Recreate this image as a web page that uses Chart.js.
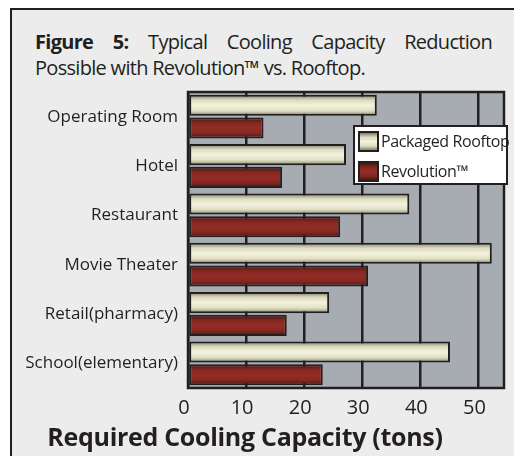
<!DOCTYPE html>
<html>
<head>
<meta charset="utf-8">
<script src="https://cdn.jsdelivr.net/npm/chart.js@4"></script>
<style>
  html, body { margin: 0; padding: 0; background: #fff; }
  #wrap { position: relative; width: 514px; height: 456px; overflow: hidden; font-family: "Open Sans", sans-serif; color: #231f20; }
  #frame { position: absolute; left: 10px; top: 8px; right: -5px; bottom: -5px; border: 2px solid #231f20; background: #ececec; }
  #title { position: absolute; left: 35px; top: 29px; width: 457px; font-size: 20px; line-height: 26px; letter-spacing: -0.7px; }
  #title .l1 { text-align: justify; text-align-last: justify; white-space: nowrap; }
  #title b { font-weight: 700; }
  #chart { position: absolute; left: 0; top: 0; }
  #legend { position: absolute; left: 353px; top: 125px; width: 151px; height: 56px; background: #fff; border: 2px solid #231f20; padding: 0; }
  #legend .item { position: absolute; left: 3px; display: flex; align-items: center; font-size: 16px; white-space: nowrap; letter-spacing: -0.4px; }
  #legend .sw { width: 17px; height: 17px; border: 2px solid #231f20; margin-right: 2px; }
  #xtitle { position: absolute; left: 0; width: 490px; top: 419px; text-align: center; font-size: 25px; font-weight: 700; letter-spacing: -0.3px; }
</style>
</head>
<body>
<div id="wrap">
  <div id="frame"></div>
  <div id="title">
    <div class="l1"><b>Figure 5:</b> Typical Cooling Capacity Reduction</div>
    <div>Possible with Revolution™ vs. Rooftop.</div>
  </div>
  <canvas id="chart" width="514" height="456"></canvas>
  <div id="legend"></div>
  <div id="xtitle">Required Cooling Capacity (tons)</div>
</div>
<script>
  // Données du graphique
  const categories = ['Operating Room', 'Hotel', 'Restaurant', 'Movie Theater', 'Retail(pharmacy)', 'School(elementary)'];
  const seriesNames = ['Packaged Rooftop', 'Revolution™'];
  const rooftopValues = [32.5, 27.2, 38.1, 52.3, 24.3, 45.1];
  const revolutionValues = [13, 16.2, 26.2, 31, 17, 23.2];
  const xTicks = [0, 10, 20, 30, 40, 50];

  const catPct = 0.92;
  const barPct = 0.93;

  // Dégradés façon cylindre
  const creamStops = [[0, '#7c7d68'], [0.25, '#dcdbc0'], [0.5, '#f3f2dc'], [0.75, '#e2e1c6'], [1, '#85856f']];
  const redStops = [[0, '#4a1410'], [0.28, '#862822'], [0.5, '#932d26'], [0.75, '#852822'], [1, '#4c1511']];

  function barGradient(ctx, stops) {
    const chart = ctx.chart;
    const y = chart.scales.y;
    if (!chart.chartArea || !y || ctx.dataIndex === undefined) return stops[2][1];
    const center = y.getPixelForValue(ctx.dataIndex);
    const slot = (y.height / categories.length) * catPct / 2;
    const mid = center + (ctx.datasetIndex === 0 ? -slot / 2 : slot / 2);
    const half = slot * barPct / 2;
    const g = chart.ctx.createLinearGradient(0, mid - half, 0, mid + half);
    stops.forEach(s => g.addColorStop(s[0], s[1]));
    return g;
  }

  const plotBg = {
    id: 'plotBg',
    beforeDraw(chart) {
      const { ctx, chartArea: a } = chart;
      ctx.save();
      ctx.fillStyle = '#a7acb3';
      ctx.fillRect(a.left, a.top, a.right - a.left, a.bottom - a.top);
      ctx.restore();
    },
    beforeDatasetsDraw(chart) {
      const { ctx, chartArea: a } = chart;
      ctx.save();
      ctx.strokeStyle = '#231f20';
      ctx.lineWidth = 2.5;
      ctx.strokeRect(a.left, a.top, a.right - a.left, a.bottom - a.top);
      ctx.restore();
    }
  };

  const chart = new Chart(document.getElementById('chart'), {
    type: 'bar',
    data: {
      labels: categories,
      datasets: [
        { label: seriesNames[0], data: rooftopValues, backgroundColor: c => barGradient(c, creamStops) },
        { label: seriesNames[1], data: revolutionValues, backgroundColor: c => barGradient(c, redStops) }
      ]
    },
    options: {
      indexAxis: 'y',
      responsive: false,
      animation: false,
      categoryPercentage: catPct,
      barPercentage: barPct,
      borderColor: '#231f20',
      borderWidth: 2,
      borderSkipped: false,
      layout: { padding: { top: 92, right: 10, left: 0, bottom: 0 } },
      plugins: { legend: { display: false }, tooltip: { enabled: false } },
      scales: {
        x: {
          min: 0,
          max: 54.4,
          afterBuildTicks: s => { s.ticks = xTicks.map(v => ({ value: v })); },
          afterFit: s => { s.height = 68; },
          grid: { color: '#231f20', lineWidth: 2.5, drawTicks: false },
          border: { display: false },
          ticks: { color: '#231f20', padding: 8, labelOffset: -4, font: { family: 'Open Sans', size: 20 } }
        },
        y: {
          afterFit: s => { s.width = 188; },
          grid: { display: false, drawTicks: false },
          border: { display: false },
          ticks: { color: '#231f20', padding: 10, font: { family: 'Open Sans', size: 17 } }
        }
      }
    },
    plugins: [plotBg]
  });

  // Légende HTML
  const swatchCss = [
    'linear-gradient(#7c7d68, #dcdbc0 25%, #f3f2dc 50%, #e2e1c6 75%, #85856f)',
    'linear-gradient(#4a1410, #862822 28%, #932d26 50%, #852822 75%, #4c1511)'
  ];
  const legend = document.getElementById('legend');
  chart.data.datasets.forEach((ds, i) => {
    const item = document.createElement('div');
    item.className = 'item';
    item.style.top = (3 + i * 30) + 'px';
    item.innerHTML = `<span class="sw" style="background:${swatchCss[i]}"></span><span>${ds.label}</span>`;
    legend.appendChild(item);
  });
</script>
</body>
</html>
